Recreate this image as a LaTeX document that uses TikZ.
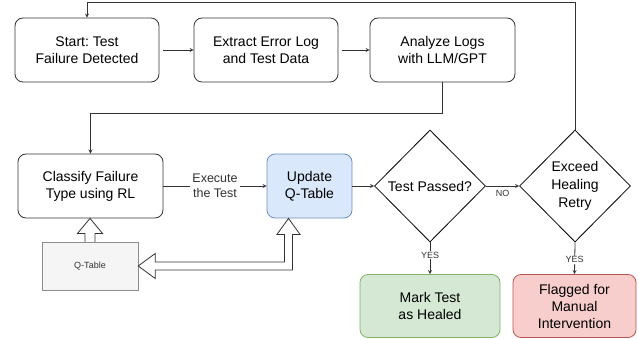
\documentclass[tikz,border=0pt]{standalone}
\usepackage{fontspec}
\setmainfont{Liberation Sans}
\frenchspacing
\usetikzlibrary{shapes.geometric,calc}
\definecolor{edgegray}{HTML}{333333}
\definecolor{updfill}{HTML}{DAE8FC}
\definecolor{upddraw}{HTML}{6C8EBF}
\definecolor{markfill}{HTML}{D5E8D4}
\definecolor{markdraw}{HTML}{82B366}
\definecolor{flagfill}{HTML}{F8CECC}
\definecolor{flagdraw}{HTML}{B85450}
\definecolor{tabfill}{HTML}{F5F5F5}
\definecolor{tabdraw}{HTML}{8C8C8C}
\tikzset{
    flowbox/.style={draw=edgegray, rounded corners=8pt, align=center, line width=0.8pt,
        font=\fontsize{14}{17}\selectfont, minimum height=64pt},
    decision/.style={draw=black, diamond, aspect=1, align=center, inner sep=0pt, line width=0.8pt,
        minimum width=111pt, minimum height=112pt, font=\fontsize{14}{18}\selectfont},
    tag/.style={fill=white, inner sep=1pt, text=edgegray, font=\fontsize{9}{10}\selectfont},
    hollow/.style={draw=edgegray, fill=white, line width=0.8pt, line join=miter},
    link/.style={->, draw=edgegray, line width=0.8pt}
}
\begin{document}
\begin{tikzpicture}[>=stealth, x=1pt, y=-1pt]
        \useasboundingbox (0,0) rectangle (639,339);

        % Top row
        \node[flowbox, minimum width=144pt] (start) at (87, 50) {Start: Test\\Failure Detected};
        \node[flowbox, minimum width=144pt] (extract) at (266, 50) {Extract Error Log\\and Test Data};
        \node[flowbox, minimum width=145pt] (analyze) at (442.5, 50) {Analyze Logs\\with LLM/GPT};
        \draw[link, shorten <=4pt] (start) -- (extract);
        \draw[link, shorten <=4pt] (extract) -- (analyze);

        % Middle row
        \node[flowbox, minimum width=145pt] (classify) at (90.5, 186) {Classify Failure\\Type using RL};
        \node[flowbox, minimum width=85pt, fill=updfill, draw=upddraw] (update) at (309.5, 186) {Update\\Q-Table};
        \node[decision] (passed) at (430, 186) {Test Passed?};
        \node[decision] (retry) at (575, 186) {Exceed\\Healing\\Retry};
        \node[draw=tabdraw, fill=tabfill, minimum width=96pt, minimum height=48pt, text=edgegray,
            font=\fontsize{9}{10}\selectfont] (qtable) at (90, 266) {Q-Table};

        \draw[link] (analyze.south) -- ++(0, 31) -| (classify.north);
        \draw[link] (classify) -- node[fill=white, inner sep=2pt, align=center, text=edgegray,
            font=\fontsize{12.5}{15}\selectfont] {Execute\\the Test} (update);
        \draw[link] (update) -- (passed);
        \draw[link] (passed) -- node[tag, below=3pt] {NO} (retry);
        \draw[link] (retry.north) -- ++(0, -127) -| (start.north);

        % Bottom row
        \node[flowbox, minimum width=140pt, minimum height=63pt, fill=markfill, draw=markdraw] (healed) at (430, 306) {Mark Test\\as Healed};
        \node[flowbox, minimum width=123pt, minimum height=63pt, fill=flagfill, draw=flagdraw] (flagged) at (574.5, 306) {Flagged for\\Manual\\Intervention};
        \draw[link] (passed.south) -- node[tag, pos=0.4] {YES} (healed.north);
        \draw[link] (retry.south) -- node[tag, pos=0.55] {YES} (flagged.north);

        % Q-table block arrows
        \coordinate (cltip) at (qtable.north |- classify.south);
        \draw[hollow] ($(qtable.north)+(-5,0)$) -- ($(cltip)+(-5,15)$) -- ($(cltip)+(-12.5,15)$)
            -- (cltip) -- ($(cltip)+(12.5,15)$) -- ($(cltip)+(5,15)$) -- ($(qtable.north)+(5,0)$);
        \coordinate (uptip) at ($(update.south)+(-21,0)$);
        \coordinate (bend) at (uptip |- qtable.east);
        \draw[hollow] (uptip) -- ++(11.5,16) -- ++(-7.5,0) -- ($(bend)+(4,4)$)
            -- ($(qtable.east)+(17,4)$) -- ++(0,8.5) -- (qtable.east) -- ++(17,-12.5) -- ++(0,8.5)
            -- ($(bend)+(-4,-4)$) -- ($(uptip)+(-4,16)$) -- ++(-7.5,0) -- cycle;
\end{tikzpicture}
\end{document}
